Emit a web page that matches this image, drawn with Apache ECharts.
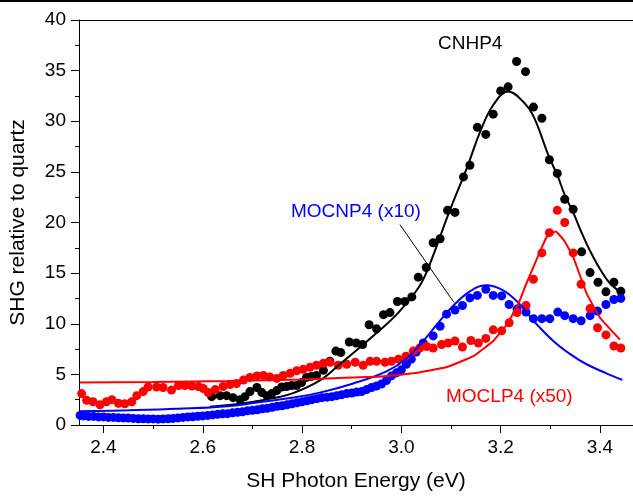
<!DOCTYPE html>
<html>
<head>
<meta charset="utf-8">
<script src="https://cdn.jsdelivr.net/npm/echarts@6/dist/echarts.min.js"></script>
<style>html,body{margin:0;padding:0;background:#fff}#c{width:633px;height:497px}</style>
</head>
<body>
<div id="c"></div>
<script>
// ---- Data ----
const xTickLabels = [2.4, 2.6, 2.8, 3.0, 3.2, 3.4];
const xMinorTicks = [2.5, 2.7, 2.9, 3.1, 3.3];

// CNHP4 measured (black dots)
const cnhpE = [2.618,2.635,2.648,2.661,2.675,2.685,2.695,2.709,2.719,2.729,2.739,2.749,2.759,2.769,2.779,2.789,2.799,2.809,2.819,2.829,2.843,2.856,2.868,2.878,2.895,2.909,2.922,2.935,2.950,2.964,2.977,2.992,3.007,3.021,3.034,3.050,3.064,3.078,3.093,3.108,3.125,3.138,3.153,3.170,3.185,3.200,3.215,3.232,3.250,3.266,3.283,3.298,3.314,3.329,3.346,3.363,3.380,3.396,3.412,3.428,3.442];
const cnhpS = [2.8,2.9,2.9,2.7,2.5,2.8,3.3,3.7,3.2,2.9,3.1,3.4,3.75,3.8,3.9,3.9,4.2,4.7,4.8,4.9,5.4,6.3,7.3,7.15,8.2,8.1,7.95,9.9,9.5,10.9,11.1,12.2,12.2,12.65,14.6,15.55,18.0,18.4,21.2,21.0,24.5,25.65,29.4,28.7,30.7,33.0,33.4,35.9,34.9,31.4,30.3,26.2,24.85,22.3,21.3,17.1,15.05,14.1,13.15,14.1,13.2];
// CNHP4 fit (black line)
const cnhpFitE = [2.614,2.675,2.725,2.779,2.836,2.876,2.915,2.955,2.994,3.035,3.055,3.096,3.132,3.159,3.185,3.215,3.246,3.266,3.298,3.314,3.33,3.346,3.363,3.38,3.40,3.42,3.445];
const cnhpFitS = [1.8,2.1,2.5,3.1,4.4,6.0,7.6,9.3,11.1,13.6,15.6,21.0,25.4,29.0,31.6,32.95,31.9,30.5,26.4,24.7,22.6,21.0,19.0,17.2,15.4,14.0,13.0];

// MOCNP4 (x10) measured (blue dots)
const mocnE = [2.353,2.36,2.37,2.38,2.39,2.40,2.41,2.42,2.43,2.44,2.45,2.46,2.47,2.48,2.49,2.50,2.51,2.52,2.53,2.54,2.55,2.56,2.57,2.58,2.59,2.60,2.61,2.62,2.63,2.64,2.65,2.66,2.67,2.68,2.69,2.70,2.71,2.72,2.73,2.74,2.75,2.76,2.77,2.78,2.79,2.80,2.81,2.82,2.83,2.84,2.85,2.86,2.87,2.88,2.89,2.90,2.91,2.92,2.93,2.94,2.95,2.96,2.97,2.98,2.99,3.00,3.01,3.02,3.03,3.044,3.064,3.078,3.091,3.108,3.123,3.138,3.153,3.170,3.185,3.202,3.217,3.233,3.251,3.266,3.283,3.299,3.315,3.329,3.346,3.362,3.380,3.395,3.412,3.428,3.442];
const mocnS = [0.95,0.9,0.85,0.85,0.8,0.8,0.75,0.75,0.72,0.7,0.68,0.65,0.62,0.62,0.6,0.6,0.58,0.6,0.62,0.65,0.7,0.75,0.8,0.82,0.86,0.9,0.95,1.0,1.05,1.1,1.12,1.2,1.25,1.3,1.4,1.45,1.5,1.6,1.65,1.75,1.85,1.9,2.0,2.1,2.2,2.3,2.4,2.5,2.6,2.7,2.75,2.8,2.9,3.0,3.1,3.15,3.25,3.3,3.5,3.7,3.85,4.05,4.4,4.85,5.15,5.45,6.0,6.5,7.2,8.1,8.8,9.75,10.95,11.35,11.8,12.55,12.8,13.4,12.8,12.75,11.9,11.45,11.15,10.5,10.5,10.5,11.15,10.8,10.5,10.3,10.8,11.25,11.9,12.4,12.5];
// MOCNP4 fit (blue line)
const mocnFitE = [2.352,2.45,2.55,2.65,2.72,2.78,2.836,2.903,2.97,3.011,3.051,3.071,3.105,3.138,3.170,3.205,3.239,3.266,3.306,3.34,3.373,3.413,3.445];
const mocnFitS = [1.35,1.45,1.6,1.85,2.3,2.7,3.2,4.1,5.3,6.6,8.7,9.9,11.8,13.2,13.8,13.3,11.9,10.3,8.3,7.0,6.0,5.1,4.45];

// MOCLP4 (x50) measured (red dots)
const moclE = [2.356,2.366,2.379,2.393,2.406,2.417,2.430,2.443,2.457,2.467,2.480,2.490,2.507,2.520,2.537,2.551,2.564,2.578,2.591,2.601,2.611,2.625,2.641,2.655,2.668,2.682,2.695,2.709,2.722,2.735,2.749,2.762,2.776,2.789,2.802,2.816,2.829,2.843,2.856,2.873,2.890,2.907,2.923,2.937,2.950,2.967,2.980,2.994,3.009,3.024,3.037,3.051,3.064,3.081,3.094,3.108,3.123,3.140,3.155,3.170,3.185,3.202,3.217,3.233,3.251,3.266,3.283,3.298,3.314,3.329,3.346,3.362,3.380,3.395,3.412,3.428,3.442];
const moclS = [3.1,2.45,2.3,2.0,2.3,2.5,2.15,2.1,2.3,2.9,3.3,3.75,3.75,3.7,3.45,3.9,3.9,3.85,3.8,3.6,3.2,3.5,3.8,4.0,4.1,4.45,4.7,4.85,4.9,4.75,4.6,4.9,5.1,5.35,5.5,5.7,5.9,6.1,6.2,5.9,6.0,6.2,5.9,6.3,6.3,6.2,6.3,6.5,6.8,7.3,7.6,7.75,7.6,7.95,8.1,8.3,7.7,8.35,8.1,8.55,9.4,9.3,10.1,11.1,11.8,14.4,17.0,19.0,21.2,20.0,17.0,13.9,11.5,9.6,8.9,7.8,7.6];
// MOCLP4 fit (red line)
const moclFitE = [2.352,2.5,2.65,2.8,2.9,2.96,3.024,3.09,3.145,3.185,3.212,3.235,3.252,3.272,3.293,3.311,3.328,3.346,3.373,3.40,3.42,3.44];
const moclFitS = [4.2,4.25,4.35,4.5,4.7,4.8,5.1,5.7,6.8,8.3,9.9,11.9,14.0,16.3,18.6,19.1,18.2,16.6,13.0,10.6,9.5,8.45];

// Annotation pointer from the MOCNP4 label
const pointerE = [2.997, 3.106];
const pointerS = [19.8, 12.1];

// ---- Chart ----
const zip = (a, b) => a.map((v, i) => [v, b[i]]);
const FONT = '"Liberation Sans", Arial, sans-serif';
const chart = echarts.init(document.getElementById('c'), null, {renderer: 'canvas'});

const dot = (name, e, s, color) => ({
  name, type: 'scatter', data: zip(e, s), symbol: 'circle', symbolSize: 9,
  itemStyle: {color, opacity: 1}, silent: true, z: 2
});
const fit = (name, e, s, color, smooth) => ({
  name, type: 'line', data: zip(e, s), showSymbol: false, smooth,
  lineStyle: {color, width: 2}, silent: true, z: 3
});

chart.setOption({
  animation: false,
  backgroundColor: '#fff',
  grid: {left: 79, top: 20, right: 0, bottom: 65, containLabel: false},
  xAxis: [
    {
      type: 'value', min: 2.3507, max: 3.4665, position: 'bottom',
      name: 'SH Photon Energy (eV)', nameLocation: 'middle', nameGap: 46,
      nameTextStyle: {fontFamily: FONT, fontSize: 21, color: '#000'},
      axisLine: {lineStyle: {color: '#000', width: 1}},
      axisTick: {show: true, inside: false, length: 8, customValues: xTickLabels, lineStyle: {color: '#000'}},
      axisLabel: {customValues: xTickLabels, formatter: v => v.toFixed(1), fontFamily: FONT, fontSize: 19, color: '#000', margin: 13},
      splitLine: {show: false}
    },
    {
      type: 'value', min: 2.3507, max: 3.4665, position: 'bottom',
      axisLine: {show: false},
      axisTick: {show: true, length: 4, customValues: xMinorTicks, lineStyle: {color: '#000'}},
      axisLabel: {show: false}, splitLine: {show: false}
    },
    {
      type: 'value', min: 2.3507, max: 3.4665, position: 'top',
      axisLine: {show: true, lineStyle: {color: '#000', width: 1}},
      axisTick: {show: false}, axisLabel: {show: false}, splitLine: {show: false}
    }
  ],
  yAxis: {
    type: 'value', min: 0, max: 40, interval: 5,
    name: 'SHG relative to quartz', nameLocation: 'middle', nameGap: 50,
    nameTextStyle: {fontFamily: FONT, fontSize: 21, color: '#000'},
    axisLine: {show: true, lineStyle: {color: '#000', width: 1}},
    axisTick: {show: true, length: 8, lineStyle: {color: '#000'}},
    minorTick: {show: true, splitNumber: 2, length: 4, lineStyle: {color: '#000'}},
    axisLabel: {fontFamily: FONT, fontSize: 19, color: '#000', margin: 13},
    splitLine: {show: false}
  },
  series: [
    dot('CNHP4', cnhpE, cnhpS, '#000000'),
    dot('MOCNP4 (x10)', mocnE, mocnS, '#0000ff'),
    dot('MOCLP4 (x50)', moclE, moclS, '#ff0000'),
    fit('CNHP4 fit', cnhpFitE, cnhpFitS, '#000000', 0.4),
    fit('MOCNP4 fit', mocnFitE, mocnFitS, '#0000ff', 0.4),
    fit('MOCLP4 fit', moclFitE, moclFitS, '#ff0000', 0.1),
    {type: 'line', data: zip(pointerE, pointerS), showSymbol: false, lineStyle: {color: '#000', width: 1}, silent: true, z: 4}
  ],
  graphic: [
    {type: 'rect', shape: {x: 0, y: 0, width: 633, height: 2}, style: {fill: '#000'}},
    {type: 'text', left: 438, top: 34, style: {text: 'CNHP4', font: '19px ' + FONT, fill: '#000'}},
    {type: 'text', left: 291, top: 202, style: {text: 'MOCNP4 (x10)', font: '19px ' + FONT, fill: '#0000ff'}},
    {type: 'text', left: 446, top: 387, style: {text: 'MOCLP4 (x50)', font: '19px ' + FONT, fill: '#ff0000'}}
  ]
});
</script>
</body>
</html>
